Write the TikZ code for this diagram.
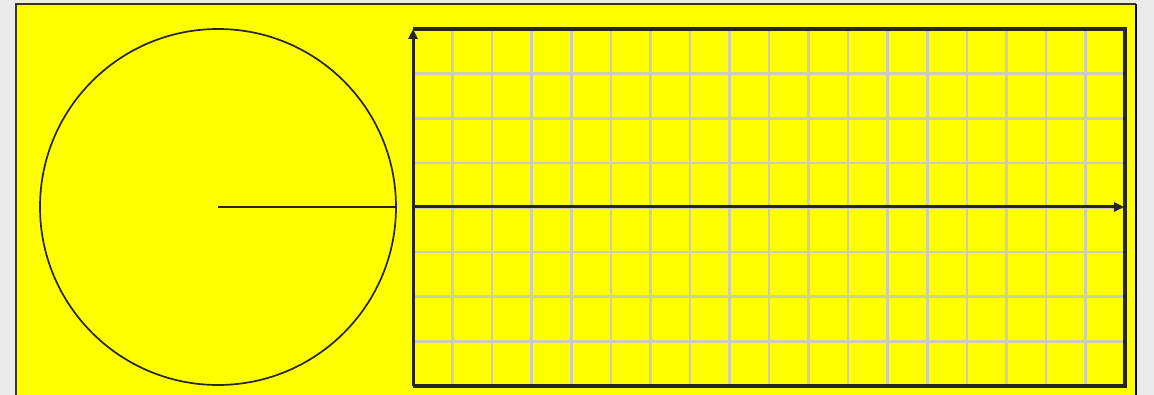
\documentclass[tikz,border=0pt]{standalone}
\usetikzlibrary{arrows.meta}
\definecolor{bggrey}{HTML}{EBEBEB}
\definecolor{ylw}{HTML}{FFFF00}
\definecolor{gridgrey}{HTML}{CDCDB4}
\definecolor{edge}{HTML}{3A3A10}
\begin{document}
\begin{tikzpicture}[x=1pt,y=-1pt,
  gridline/.style={draw=gridgrey, line width=2.6pt},
  axisline/.style={line width=3pt, draw=black!85, -{Triangle[length=10pt,width=9pt]}},
  frameline/.style={line width=3.2pt, draw=black!85},
  circline/.style={draw=black!85, line width=1.7pt}]
\fill[bggrey] (0,0) rectangle (1154,395);
\useasboundingbox (0,0) rectangle (1154,395);
\fill[ylw] (16,4) rectangle (1136,396);
\draw[edge, line width=1.3pt] (16,396) -- (16,4) -- (1136,4);
\draw[black, line width=2.4pt] (1136,4) -- (1136,396);
% grid
\foreach \i in {1,...,17}
  \draw[gridline] ({413+\i*39.56},29) -- ({413+\i*39.56},386);
\foreach \j in {1,...,7}
  \draw[gridline] (413,{29+\j*44.63}) -- (1125,{29+\j*44.63});
% frame
\coordinate (tl) at (413,29);
\coordinate (tr) at (1125,29);
\coordinate (br) at (1125,386);
\coordinate (bl) at (413,386);
\coordinate (o) at (413,207);
\coordinate (xe) at (1124,207);
\draw[frameline] (tl) -- (tr) -- (br) -- (bl);
\draw[axisline] (bl) -- (tl);
\draw[axisline] (o) -- (xe);
% circle
\node[circle, circline, minimum size=356pt, inner sep=0pt] (c) at (218,207) {};
\draw[line width=2.8pt, draw=black!85] (c.center) -- (c.east);
\end{tikzpicture}
\end{document}
